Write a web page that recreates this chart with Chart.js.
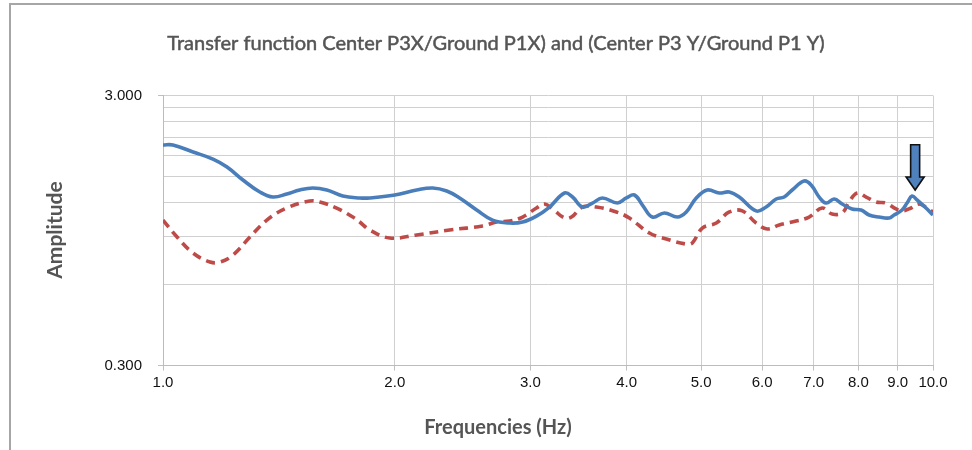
<!DOCTYPE html>
<html>
<head>
<meta charset="utf-8">
<script src="https://cdn.jsdelivr.net/npm/chart.js@4.4.1/dist/chart.umd.min.js"></script>
<style>
  html, body { margin: 0; padding: 0; background: #fff; }
  #wrap { position: relative; width: 972px; height: 450px; }
</style>
</head>
<body>
<div id="wrap"><canvas id="c" width="972" height="450"></canvas></div>
<script>
const chartTitle = 'Transfer function Center P3X/Ground P1X) and (Center P3 Y/Ground P1 Y)';
const xAxisTitle = 'Frequencies (Hz)';
const yAxisTitle = 'Amplitude';

const xTickValues = [1, 2, 3, 4, 5, 6, 7, 8, 9, 10];
const yTickValues = [0.3, 0.6, 0.9, 1.2, 1.5, 1.8, 2.1, 2.4, 2.7, 3.0];
const yLabeledTicks = [0.3, 3.0];

const blueFreq = [1.00, 1.03, 1.094, 1.161, 1.211, 1.270, 1.336, 1.389, 1.448, 1.505, 1.565, 1.632, 1.712, 1.801, 1.855, 2.000, 2.135, 2.240, 2.336, 2.428, 2.555, 2.679, 2.819, 2.931, 3.055, 3.177, 3.323, 3.403, 3.505, 3.612, 3.721, 3.892, 3.998, 4.095, 4.194, 4.321, 4.479, 4.656, 4.782, 4.927, 5.092, 5.278, 5.438, 5.603, 5.893, 6.072, 6.257, 6.408, 6.563, 6.802, 6.946, 7.115, 7.265, 7.441, 7.621, 7.851, 8.065, 8.260, 8.511, 8.768, 8.900, 9.116, 9.253, 9.393, 9.533, 9.793, 10.0];
const blueAmp = [1.967, 1.967, 1.853, 1.745, 1.631, 1.459, 1.317, 1.262, 1.295, 1.340, 1.363, 1.340, 1.273, 1.252, 1.252, 1.284, 1.340, 1.363, 1.329, 1.252, 1.130, 1.037, 1.011, 1.020, 1.073, 1.159, 1.306, 1.262, 1.159, 1.199, 1.252, 1.199, 1.252, 1.284, 1.179, 1.064, 1.102, 1.064, 1.111, 1.252, 1.340, 1.306, 1.317, 1.262, 1.121, 1.159, 1.241, 1.262, 1.340, 1.447, 1.399, 1.262, 1.199, 1.241, 1.189, 1.140, 1.130, 1.083, 1.064, 1.055, 1.083, 1.130, 1.199, 1.273, 1.231, 1.149, 1.083];

const redFreq = [1.00, 1.043, 1.094, 1.151, 1.186, 1.233, 1.297, 1.364, 1.448, 1.551, 1.598, 1.681, 1.764, 1.801, 1.855, 1.970, 2.135, 2.356, 2.600, 2.712, 2.819, 2.931, 3.055, 3.130, 3.206, 3.323, 3.392, 3.505, 3.655, 3.880, 4.034, 4.282, 4.506, 4.782, 4.869, 5.017, 5.231, 5.438, 5.653, 5.893, 6.091, 6.313, 6.641, 6.904, 7.178, 7.396, 7.621, 7.781, 7.971, 8.189, 8.437, 8.690, 8.954, 9.116, 9.365, 9.590, 9.822, 10.0];
const redAmp = [1.037, 0.897, 0.783, 0.725, 0.725, 0.770, 0.897, 1.037, 1.149, 1.220, 1.210, 1.149, 1.064, 1.020, 0.953, 0.890, 0.913, 0.953, 0.986, 1.020, 1.028, 1.064, 1.149, 1.189, 1.140, 1.055, 1.064, 1.159, 1.159, 1.111, 1.055, 0.929, 0.882, 0.845, 0.853, 0.969, 1.011, 1.111, 1.121, 1.011, 0.961, 0.994, 1.028, 1.064, 1.149, 1.092, 1.102, 1.210, 1.306, 1.262, 1.210, 1.199, 1.140, 1.121, 1.149, 1.189, 1.149, 1.111];

// annotation arrow (data coordinates)
const arrowFreq = 9.48;
const arrowTipAmp = 1.34;
const arrowTailAmp = 1.97;

const toPoints = (xs, ys) => xs.map((x, i) => ({ x: x, y: ys[i] }));

const frameAndTitles = {
  id: 'frameAndTitles',
  beforeDraw(chart) {
    const ctx = chart.ctx;
    ctx.save();
    ctx.fillStyle = '#ffffff';
    ctx.fillRect(0, 0, chart.width, chart.height);
    ctx.strokeStyle = '#a6a6a6';
    ctx.lineWidth = 2;
    ctx.beginPath();
    ctx.moveTo(10, 452);
    ctx.lineTo(10, 4);
    ctx.lineTo(974, 4);
    ctx.stroke();
    ctx.restore();
  },
  afterDraw(chart) {
    const ctx = chart.ctx;
    ctx.save();
    ctx.fillStyle = '#555555';
    ctx.strokeStyle = '#555555';
    ctx.textAlign = 'center';
    ctx.textBaseline = 'middle';
    ctx.font = '20px Lato, "Open Sans", sans-serif';
    ctx.lineWidth = 0.5;
    ctx.fillText(chartTitle, 496, 44);
    ctx.strokeText(chartTitle, 496, 44);
    ctx.font = 'bold 20px Lato, "Open Sans", sans-serif';
    ctx.fillText(xAxisTitle, 498, 428);
    ctx.translate(55, 230);
    ctx.rotate(-Math.PI / 2);
    ctx.font = 'bold 21px Lato, "Open Sans", sans-serif';
    ctx.fillText(yAxisTitle, 0, 0);
    ctx.restore();

    // arrow annotation
    const xs = chart.scales.x, ys = chart.scales.y;
    const ax = xs.getPixelForValue(arrowFreq);
    const tipY = ys.getPixelForValue(arrowTipAmp);
    const tailY = ys.getPixelForValue(arrowTailAmp);
    const headLen = 13, shaftHalf = 4.5, headHalf = 9;
    ctx.save();
    ctx.beginPath();
    ctx.moveTo(ax - shaftHalf, tailY);
    ctx.lineTo(ax + shaftHalf, tailY);
    ctx.lineTo(ax + shaftHalf, tipY - headLen);
    ctx.lineTo(ax + headHalf, tipY - headLen);
    ctx.lineTo(ax, tipY);
    ctx.lineTo(ax - headHalf, tipY - headLen);
    ctx.lineTo(ax - shaftHalf, tipY - headLen);
    ctx.closePath();
    ctx.fillStyle = '#4f81bd';
    ctx.fill();
    ctx.lineWidth = 1.6;
    ctx.strokeStyle = '#111111';
    ctx.stroke();
    ctx.restore();
  }
};

new Chart(document.getElementById('c'), {
  type: 'line',
  data: {
    datasets: [
      {
        label: 'Center P3X/Ground P1X',
        data: toPoints(blueFreq, blueAmp),
        borderColor: '#4a7ebb',
        borderWidth: 3.6,
        pointRadius: 0,
        tension: 0.4,
        fill: false
      },
      {
        label: 'Center P3 Y/Ground P1 Y',
        data: toPoints(redFreq, redAmp),
        borderColor: '#be4b48',
        borderWidth: 3.6,
        borderDash: [9, 6],
        pointRadius: 0,
        tension: 0.4,
        fill: false
      }
    ]
  },
  options: {
    responsive: false,
    animation: false,
    devicePixelRatio: 1,
    layout: { padding: { top: 95.5, left: 0, right: 39, bottom: 0 } },
    plugins: {
      legend: { display: false },
      title: { display: false },
      tooltip: { enabled: false }
    },
    scales: {
      x: {
        type: 'logarithmic',
        min: 1,
        max: 10,
        afterBuildTicks: (scale) => { scale.ticks = xTickValues.map(v => ({ value: v })); },
        afterFit: (scale) => { scale.height = 84.5; },
        ticks: {
          autoSkip: false,
          maxRotation: 0,
          padding: 3,
          color: '#111111',
          font: { family: '"Liberation Sans", Arial, sans-serif', size: 15 },
          callback: (v) => Number(v).toFixed(1)
        },
        grid: { color: '#d0d0d0', lineWidth: 1, tickLength: 5, tickColor: '#bfbfbf' },
        border: { display: true, color: '#bcbcbc', width: 1 }
      },
      y: {
        type: 'logarithmic',
        min: 0.3,
        max: 3.0,
        afterBuildTicks: (scale) => { scale.ticks = yTickValues.map(v => ({ value: v })); },
        afterFit: (scale) => { scale.width = 163; },
        ticks: {
          autoSkip: false,
          padding: 16,
          color: '#111111',
          font: { family: '"Liberation Sans", Arial, sans-serif', size: 15 },
          callback: (v) => (yLabeledTicks.some(t => Math.abs(t - v) < 1e-9) ? Number(v).toFixed(3) : '')
        },
        grid: {
          color: '#d0d0d0',
          lineWidth: 1,
          tickLength: 5,
          tickColor: (ctx) => (ctx.tick && yLabeledTicks.some(t => Math.abs(t - ctx.tick.value) < 1e-9) ? '#bfbfbf' : 'rgba(0,0,0,0)')
        },
        border: { display: true, color: '#bcbcbc', width: 1 }
      }
    }
  },
  plugins: [frameAndTitles]
});
</script>
</body>
</html>
